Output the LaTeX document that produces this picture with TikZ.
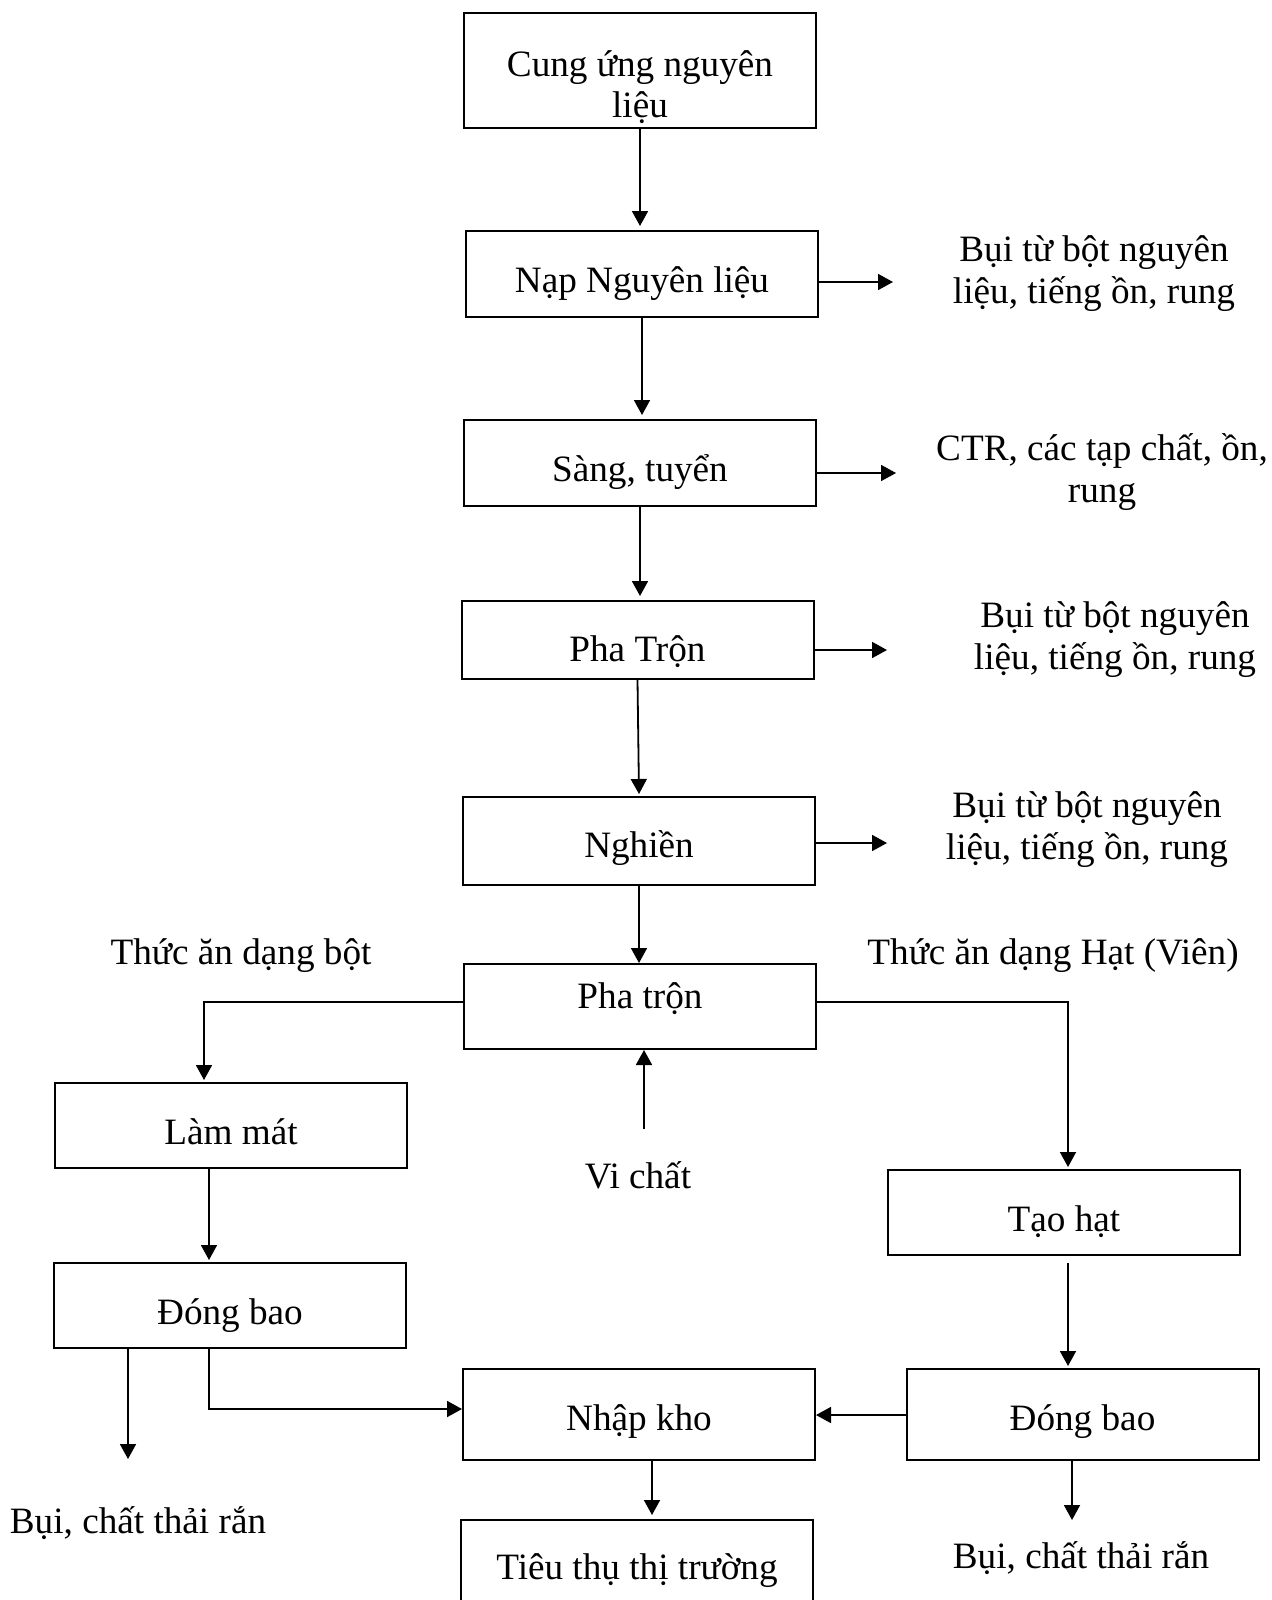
\documentclass[tikz,border=0pt]{standalone}
\usepackage{fontspec}
\setmainfont{Liberation Serif}
\usetikzlibrary{arrows.meta}

\tikzset{
  box/.style={draw, line width=1pt, minimum width=176pt, align=center,
              font=\fontsize{18.6}{20.5}\selectfont,
              text height=23pt, text depth=4.5pt},
  lbl/.style={align=center, font=\fontsize{18.6}{21}\selectfont},
  arr/.style={-{Triangle[length=7.5pt,width=8pt]}, line width=0.9pt},
  ln/.style={line width=0.9pt}
}

\begin{document}
\begin{tikzpicture}[x=0.5pt,y=-0.5pt]
        \useasboundingbox (0,0) rectangle (1272,1600);

        % main column
        \node[box,minimum height=57.5pt,inner ysep=0pt,text height=,text depth=]
              (cungung) at (640,71) {\rule{0pt}{29pt}Cung ứng nguyên\\liệu};
        \node[box,minimum height=43pt]   (nap)      at (642,274)    {Nạp Nguyên liệu};
        \node[box,minimum height=43pt]   (sang)     at (640,463)    {Sàng, tuyển};
        \node[box,minimum height=39pt,inner ysep=0pt,text height=26pt] (phatron) at (637.5,640) {Pha Trộn};
        \node[box,minimum height=44pt,text height=21pt] (nghien) at (639,841) {Nghiền};
        \node[box,minimum height=42.5pt,text height=14pt,text depth=12pt] (phatronb) at (640,1006.5) {Pha trộn};
        \node[box,minimum height=45.5pt,text height=20pt] (nhapkho) at (639,1414.5) {Nhập kho};
        \node[box,minimum height=50pt,text height=14pt] (tieuthu) at (637,1570) {Tiêu thụ thị trường};

        % left and right branches
        \node[box,minimum height=42.5pt] (lammat)   at (231,1125.5)  {Làm mát};
        \node[box,minimum height=42.5pt] (dongbaoa) at (230,1305.5)  {Đóng bao};
        \node[box,minimum height=42.5pt] (taohat)   at (1064,1212.5) {Tạo hạt};
        \node[box,minimum height=45.5pt,text height=20pt] (dongbaob) at (1082.5,1414.5) {Đóng bao};

        % side texts
        \node[lbl] (buia)   at (1094,274) {Bụi từ bột nguyên\\liệu, tiếng ồn, rung};
        \node[lbl] (ctr)    at (1102,472) {CTR, các tạp chất, ồn,\\rung};
        \node[lbl] (buib)   at (1115,640) {Bụi từ bột nguyên\\liệu, tiếng ồn, rung};
        \node[lbl] (buic)   at (1087,830) {Bụi từ bột nguyên\\liệu, tiếng ồn, rung};
        \node[lbl] (botc)   at (241,956)  {Thức ăn dạng bột};
        \node[lbl] (hatc)   at (1053,956) {Thức ăn dạng Hạt (Viên)};
        \node[lbl] (vichat) at (638,1175) {Vi chất};
        \node[lbl] (chatra) at (138,1523) {Bụi, chất thải rắn};
        \node[lbl] (chatrb) at (1081,1558) {Bụi, chất thải rắn};

        \coordinate (da) at (893,282);
        \coordinate (db) at (896,473);
        \coordinate (dc) at (887,650);
        \coordinate (dd) at (887,843);
        \coordinate (bl) at (204,1002);
        \coordinate (br) at (1068,1002);
        \coordinate (vc) at (644,1129);
        \coordinate (ea) at (128,1459);
        \coordinate (eb) at (1072,1520);
        \coordinate (ka) at (209,1409);
        \coordinate (kb) at (1068,1263);

        % flow
        \draw[arr] (cungung.south) -- ([yshift=2pt]cungung.south |- nap.north);
        \draw[arr] (nap.south) -- ([yshift=2pt]nap.south |- sang.north);
        \draw[arr] (sang.south) -- ([yshift=2pt]sang.south |- phatron.north);
        \draw[arr] (phatron.south) -- ([yshift=1pt]nghien.north);
        \draw[arr] (nghien.south) -- (nghien.south |- phatronb.north);
        \draw[arr] (vc) -- (vc |- phatronb.south);

        \draw[arr] (nap.east |- da) -- (da);
        \draw[arr] (sang.east |- db) -- (db);
        \draw[arr] (phatron.east |- dc) -- (dc);
        \draw[arr] (nghien.east |- dd) -- (dd);

        \draw[arr] (phatronb.west |- bl) -- (bl) -- ([yshift=1pt]bl |- lammat.north);
        \draw[arr] (phatronb.east |- br) -- (br) -- ([yshift=1pt]br |- taohat.north);
        \draw[arr] (lammat.south -| ka) -- ([yshift=1pt]ka |- dongbaoa.north);
        \draw[arr] (dongbaoa.south -| ea) -- (ea);
        \draw[arr] (dongbaoa.south -| ka) -- (ka) -- (ka -| nhapkho.west);
        \draw[arr] (kb) -- ([yshift=1pt]kb |- dongbaob.north);
        \draw[arr] (dongbaob.west |- 0,1415) -- (nhapkho.east |- 0,1415);
        \draw[arr] (nhapkho.south -| 652,0) -- ([yshift=2pt]652,0 |- tieuthu.north);
        \draw[arr] (dongbaob.south -| eb) -- (eb);
\end{tikzpicture}
\end{document}
